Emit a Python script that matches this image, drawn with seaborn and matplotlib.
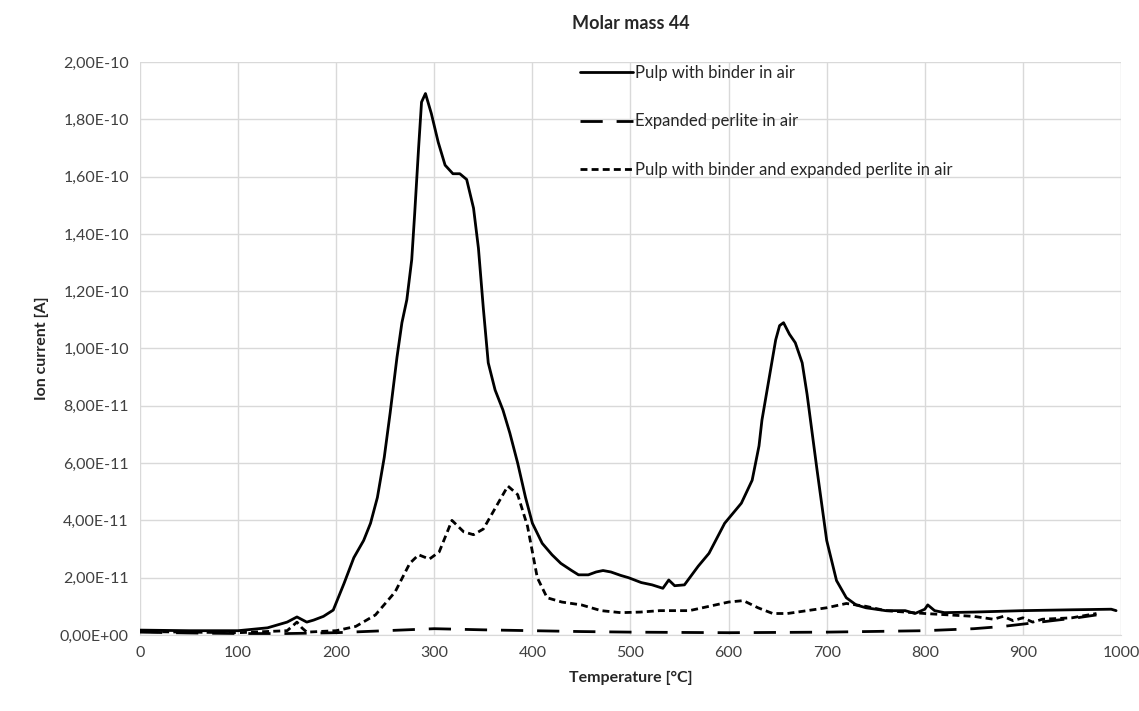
import numpy as np
import pandas as pd
import matplotlib
matplotlib.use("Agg")
import matplotlib.pyplot as plt
from matplotlib.ticker import FuncFormatter, MultipleLocator
import seaborn as sns

# Pulp with binder in air (values in 1E-11 A)
t_pulp = [0, 50, 100, 130, 150, 160, 170, 177, 187, 197, 208, 218, 228, 235, 242, 249, 255, 262, 267,
          272, 277, 280, 284, 287, 291, 297, 304, 311, 319, 326, 333, 340, 345, 350, 355, 362, 370, 377,
          385, 393, 400, 410, 420, 429, 440, 447, 457, 465, 472, 480, 490, 498, 511, 522, 533, 539, 545,
          555, 569, 580, 596, 613, 624, 631, 634, 640, 648, 652, 656, 662, 668, 675, 680, 690, 700, 710,
          720, 730, 740, 750, 760, 770, 780, 790, 800, 803, 810, 820, 850, 900, 950, 990, 995]
i_pulp = [0.17, 0.15, 0.15, 0.25, 0.45, 0.63, 0.45, 0.52, 0.65, 0.87, 1.8, 2.7, 3.3, 3.9, 4.8, 6.2,
          7.75, 9.7, 10.9, 11.7, 13.1, 14.7, 17.0, 18.6, 18.9, 18.2, 17.2, 16.4, 16.1, 16.1, 15.9, 14.9,
          13.5, 11.4, 9.5, 8.55, 7.85, 7.05, 6.0, 4.8, 3.9, 3.2, 2.8, 2.5, 2.25, 2.1, 2.1, 2.2, 2.25, 2.2,
          2.08, 2.0, 1.83, 1.75, 1.63, 1.92, 1.72, 1.75, 2.4, 2.85, 3.9, 4.6, 5.4, 6.6, 7.5, 8.7, 10.3,
          10.8, 10.9, 10.5, 10.2, 9.5, 8.4, 5.8, 3.3, 1.9, 1.3, 1.05, 0.95, 0.9, 0.85, 0.85, 0.85, 0.75,
          0.9, 1.05, 0.85, 0.78, 0.8, 0.85, 0.88, 0.9, 0.85]

# Expanded perlite in air
t_perl = [0, 50, 100, 150, 200, 250, 300, 350, 400, 450, 500, 600, 700, 800, 850, 880, 910, 930, 955, 975]
i_perl = [0.1, 0.07, 0.05, 0.05, 0.08, 0.15, 0.22, 0.18, 0.15, 0.12, 0.1, 0.08, 0.1, 0.15, 0.22, 0.3,
          0.42, 0.5, 0.6, 0.7]

# Pulp with binder and expanded perlite in air
t_mix = [0, 50, 100, 150, 160, 165, 170, 200, 220, 240, 260, 275, 284, 295, 305, 318, 330, 340, 350,
         360, 375, 385, 395, 405, 415, 430, 450, 470, 490, 510, 530, 560, 580, 600, 615, 630, 645, 660,
         680, 700, 720, 740, 760, 800, 850, 870, 880, 890, 900, 910, 920, 950, 975]
i_mix = [0.12, 0.1, 0.08, 0.15, 0.45, 0.25, 0.1, 0.15, 0.3, 0.7, 1.5, 2.5, 2.8, 2.65, 2.9, 4.0, 3.6,
         3.5, 3.7, 4.3, 5.2, 4.9, 3.8, 2.0, 1.3, 1.15, 1.05, 0.85, 0.78, 0.8, 0.85, 0.85, 1.0, 1.15, 1.2,
         0.95, 0.75, 0.75, 0.85, 0.95, 1.1, 1.0, 0.85, 0.75, 0.65, 0.55, 0.65, 0.5, 0.6, 0.45, 0.55, 0.6,
         0.75]

sns.set_style("white")
plt.rcParams['font.family'] = ['Lato', 'DejaVu Sans']

fig = plt.figure(figsize=(11.39, 7.11), dpi=100)
ax = fig.add_axes([0.1229, 0.1069, 0.8613, 0.8059])

sns.lineplot(x=np.array(t_pulp), y=np.array(i_pulp) * 1e-11, ax=ax, color='black', lw=2,
             label='Pulp with binder in air')
sns.lineplot(x=np.array(t_perl), y=np.array(i_perl) * 1e-11, ax=ax, color='black', lw=2,
             label='Expanded perlite in air')
sns.lineplot(x=np.array(t_mix), y=np.array(i_mix) * 1e-11, ax=ax, color='black', lw=2,
             label='Pulp with binder and expanded perlite in air')
ax.lines[1].set_dashes((8, 5))
ax.lines[2].set_dashes((2.5, 1.5))

ax.set_xlim(0, 1000)
ax.set_ylim(0, 2e-10)
ax.xaxis.set_major_locator(MultipleLocator(100))
ax.yaxis.set_major_locator(MultipleLocator(2e-11))
ax.yaxis.set_major_formatter(FuncFormatter(lambda v, p: f"{v:.2E}".replace('.', ',')))
ax.yaxis.get_offset_text().set_visible(False)
ax.grid(True, color='#d9d9d9', lw=1)
for s in ['top', 'right', 'left']:
    ax.spines[s].set_visible(False)
ax.spines['bottom'].set_color('#d9d9d9')
ax.tick_params(axis='both', labelsize=11.5, colors='#404040', length=0, pad=8)

ax.set_xlabel('Temperature [°C]', fontsize=11.5, fontweight='bold', labelpad=8)
ax.set_ylabel('Ion current [A]', fontsize=11.5, fontweight='bold', labelpad=8)
ax.set_title('Molar mass 44', fontsize=13, fontweight='bold', pad=24)

leg = ax.legend(loc='upper left', bbox_to_anchor=(0.4485, 0.995), frameon=False, fontsize=12,
                handlelength=3.2, handletextpad=0.1, labelspacing=1.95, borderpad=0, borderaxespad=0)
for h in leg.get_lines():
    h.set_linewidth(2)

fig.savefig('out.png', dpi=100)
